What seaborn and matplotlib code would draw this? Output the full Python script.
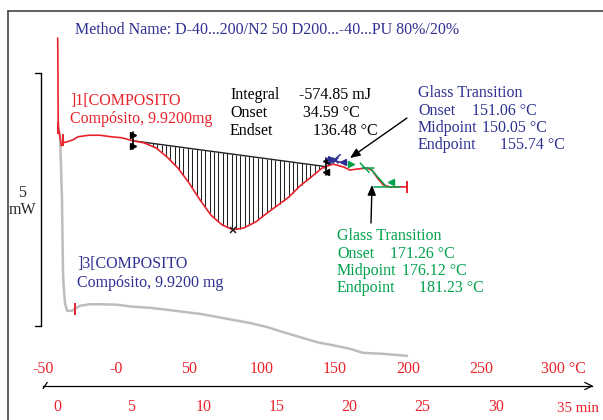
import numpy as np
import pandas as pd
import matplotlib
matplotlib.use("Agg")
import matplotlib.pyplot as plt
from matplotlib.lines import Line2D
import seaborn as sns

# ---- data -------------------------------------------------------------
# Segment 1: heating -40 -> 200 °C at 10 K/min; time [min], heat flow [mW]
run1_time = [0.00, 0.02, 0.03, 0.06, 0.16, 0.26, 0.36, 0.64, 1.05, 1.39,
             2.14, 2.90, 3.65, 4.40, 5.16, 5.91, 6.73, 7.49, 8.24, 8.99,
             9.75, 10.50, 11.25, 12.01, 12.76, 13.58, 14.33, 15.09, 15.84, 16.60,
             17.35, 18.10, 18.86, 19.61, 20.02, 20.43, 21.19, 21.53, 21.94, 22.29,
             22.70, 23.45, 23.93]
run1_mw = [5.69, 4.86, 4.13, 3.91, 3.72, 3.56, 3.62, 3.64, 3.68, 3.74,
           3.77, 3.77, 3.74, 3.72, 3.66, 3.62, 3.52, 3.34, 3.12, 2.83,
           2.49, 2.19, 2.00, 1.90, 1.94, 2.06, 2.23, 2.39, 2.55, 2.77,
           2.94, 3.12, 3.20, 3.14, 3.08, 3.10, 3.12, 3.08, 2.91, 2.79,
           2.75, 2.75, 2.75]

# Segment 3: second run of the same sample
run3_time = [0.02, 0.16, 0.29, 0.36, 0.40, 0.50, 0.64, 0.98, 1.18, 1.53,
             2.21, 2.90, 4.06, 5.16, 6.32, 7.49, 8.58, 9.75, 10.91, 12.01,
             13.17, 14.33, 15.43, 16.60, 17.76, 18.86, 20.02, 20.90, 22.29, 23.93]
run3_mw = [3.91, 3.77, 2.55, 1.11, 0.81, 0.45, 0.30, 0.30, 0.34, 0.40,
           0.43, 0.43, 0.42, 0.38, 0.36, 0.32, 0.28, 0.24, 0.18, 0.12,
           0.06, -0.02, -0.12, -0.22, -0.32, -0.38, -0.45, -0.53, -0.55, -0.59]

# Peak integration limits (°C) and evaluation results
integration_limits_c = [11.6, 143.8]
integral_mj = -574.85
peak_onset_c = 34.59
peak_endset_c = 136.48
tg_blue_c = [151.06, 150.05, 155.74]    # onset, midpoint, endpoint
tg_green_c = [171.26, 176.12, 181.23]   # onset, midpoint, endpoint

# Axis labelling
time_ticks = list(range(-1, 37))
time_labels = [0, 5, 10, 15, 20, 25, 30, 35]
temp_labels = [-50, 0, 50, 100, 150, 200, 250, 300]
scale_bar_mw = 5

T_START, RATE = -40.0, 10.0   # °C, K/min


def c_to_min(c):
    return (np.asarray(c, dtype=float) - T_START) / RATE


# ---- styling ------------------------------------------------------------
sns.set_style("white")
plt.rcParams["font.family"] = ["Liberation Serif", "DejaVu Serif"]
RED = "#e8232b"
BLUE = "#2e3192"
GREEN = "#00a14b"
GRAY = "#bdbdbd"
FS = 11.5

W, H = 603, 420
fig = plt.figure(figsize=(W / 100, H / 100), dpi=100)
ax = fig.add_axes([0, 0, 1, 1])
ax.set_facecolor("white")

# 14.6 px per minute, 50.6 px per mW
ax.set_xlim(-57.7 / 14.6, (W - 57.7) / 14.6)
ax.set_ylim(-94 / 50.6, 326 / 50.6)


def fx(px):
    return px / W


def fy(py):
    return 1 - py / H


df1 = pd.DataFrame({"t": run1_time, "mw": run1_mw})
df3 = pd.DataFrame({"t": run3_time, "mw": run3_mw})

sns.lineplot(data=df3, x="t", y="mw", ax=ax, color=GRAY, lw=1.8,
             sort=False, estimator=None, zorder=2)
sns.lineplot(data=df1, x="t", y="mw", ax=ax, color=RED, lw=1.2,
             sort=False, estimator=None, zorder=4)

# segment start/end marks
ax.plot([run1_time[2]], [run1_mw[3]], marker="|", ms=8, mew=1.4, color=RED, zorder=5)
ax.plot([run1_time[6]], [3.68], marker="|", ms=9, mew=1.4, color=RED, zorder=5)
ax.plot([run3_time[8]], [run3_mw[8]], marker="|", ms=8, mew=1.4, color=RED, zorder=5)
ax.plot([run1_time[-1]], [run1_mw[-1]], marker="|", ms=9, mew=1.4, color=RED, zorder=5)

# ---- peak integration ---------------------------------------------------
t_a, t_b = c_to_min(integration_limits_c)
y_a = np.interp(t_a, run1_time, run1_mw)
y_b = np.interp(t_b, run1_time, run1_mw)
ax.plot([t_a, t_b], [y_a, y_b], color="#222222", lw=1.0, zorder=3)
hatch_t = np.arange(t_a + 0.15, t_b, 0.3)
base = y_a + (y_b - y_a) * (hatch_t - t_a) / (t_b - t_a)
curve = np.interp(hatch_t, run1_time, run1_mw)
ax.vlines(hatch_t, curve, base, color="#222222", lw=0.75, zorder=3)

for t0, y0, mk in [(t_a, y_a, ">"), (t_b, y_b, "<")]:
    ax.plot([t0, t0], [y0 - 0.17, y0 + 0.17], color="black", lw=1.2, zorder=5)
    ax.plot([t0, t0], [y0 + 0.11, y0 - 0.11], ls="none", marker=mk, ms=4.5,
            color="black", zorder=5)

i_min = int(np.argmin(run1_mw))
ax.plot([run1_time[i_min]], [run1_mw[i_min]], marker="x", ms=5, mew=1.1,
        color="#222222", zorder=6)

# ---- glass transitions --------------------------------------------------
tb_on, tb_mid, tb_end = c_to_min(tg_blue_c)
yb = np.interp(tb_mid, run1_time, run1_mw)
ax.plot([tb_mid - 0.65, tb_end + 0.2], [yb + 0.12, yb + 0.02], color=BLUE, lw=1.1, zorder=6)
ax.plot([tb_mid - 0.35, tb_mid + 0.35], [yb + 0.02, yb + 0.2], color=BLUE, lw=1.1, zorder=6)
ax.plot([tb_mid - 0.3], [yb + 0.12], marker=">", ms=4, color=BLUE, zorder=6)
ax.plot([tb_mid], [yb + 0.1], marker="x", ms=4, mew=1.0, color=BLUE, zorder=6)
ax.plot([tb_end], [yb + 0.05], marker="<", ms=4, color=BLUE, zorder=6)

tg_on, tg_mid, tg_end = c_to_min(tg_green_c)
yg_on = np.interp(tg_on, run1_time, run1_mw)
yg_mid = np.interp(tg_mid, run1_time, run1_mw)
yg_low = run1_mw[-1]
slope = (np.interp(tg_mid + 0.2, run1_time, run1_mw) -
         np.interp(tg_mid - 0.2, run1_time, run1_mw)) / 0.4
ax.plot([tg_on - 0.3, tg_mid + 0.05], [yg_on, yg_on], color=GREEN, lw=1.1, zorder=6)
ax.plot([tg_on - 0.4, tg_on + 0.2], [yg_on + 0.1, yg_on - 0.08], color=GREEN, lw=1.1, zorder=6)
tt = np.array([tg_mid - 0.15, tg_end + 0.3])
ax.plot(tt, yg_mid + slope * (tt - tg_mid), color=GREEN, lw=1.1, zorder=6)
ax.plot([tg_mid + 0.05, tg_end + 1.3], [yg_low, yg_low], color=GREEN, lw=1.1, zorder=6)
ax.plot([tg_on - 1.05], [yg_on + 0.08], marker=">", ms=4.5, color=GREEN, zorder=6)
ax.plot([tg_end + 0.7], [yg_low + 0.1], marker="<", ms=4.5, color=GREEN, zorder=6)

# ---- bottom axis: time ticks below, temperature labels above -----------
axis_y = -60 / 50.6
for s in ["left", "right", "top"]:
    ax.spines[s].set_visible(False)
ax.spines["bottom"].set_position(("data", axis_y))
ax.spines["bottom"].set_bounds(-1.0, 36.6)
ax.spines["bottom"].set_color("black")
ax.spines["bottom"].set_linewidth(0.9)
ax.set_yticks([])
ax.set_xticks(time_ticks)
# the last time label carries the unit and is drawn separately below
ax.set_xticklabels([str(t) if (t in time_labels and t != time_labels[-1]) else ""
                    for t in time_ticks])
ax.tick_params(axis="x", direction="inout", length=7, width=0.9, pad=6,
               labelsize=FS, labelcolor=RED, color="black")
ax.set_xlabel("")
ax.set_ylabel("")
ax.text(fx(557), fy(412), f"{time_labels[-1]} min", transform=ax.transAxes,
        color=RED, fontsize=10.8, ha="left", va="baseline")
ax.plot([36.1, 36.6, 36.1], [axis_y + 0.07, axis_y, axis_y - 0.07], color="black",
        lw=0.9, clip_on=False)
ax.plot([-1.0, -0.72], [axis_y - 0.05, axis_y + 0.07], color="black", lw=0.9)

temp_y = -47 / 50.6
for c in temp_labels:
    t = c_to_min(c)
    if c == 300:
        ax.text(t - 0.9, temp_y, "300 °C", color=RED, fontsize=FS, ha="left", va="baseline")
    else:
        txt = "-0" if c == 0 else str(c)
        ax.text(t, temp_y, txt, color=RED, fontsize=FS, ha="center", va="baseline")

# scale bar
sb_x = -16.7 / 14.6
ax.plot([sb_x - 0.41, sb_x, sb_x, sb_x - 0.41], [scale_bar_mw, scale_bar_mw, 0, 0],
        color="black", lw=1.0)
ax.text(fx(22), fy(197), str(scale_bar_mw), transform=ax.transAxes, fontsize=FS,
        ha="center", va="baseline")
ax.text(fx(22), fy(214), "mW", transform=ax.transAxes, fontsize=FS,
        ha="center", va="baseline")

# frame
fig.add_artist(Line2D([fx(8), 1.0], [fy(11), fy(11)], color="#444444", lw=1.2))
fig.add_artist(Line2D([fx(8), fx(8)], [fy(11), 0.0], color="#444444", lw=1.2))


def put(px, py, s, color, ha="left"):
    ax.text(fx(px), fy(py), s, transform=ax.transAxes, color=color, fontsize=FS,
            ha=ha, va="baseline")


put(75, 34, "Method Name: D-40...200/N2 50 D200...-40...PU 80%/20%", BLUE)
put(70, 105, "]1[COMPOSITO", RED)
put(70, 123, "Compósito, 9.9200mg", RED)
put(77, 268, "]3[COMPOSITO", BLUE)
put(77, 287, "Compósito, 9.9200 mg", BLUE)

put(230, 99, "Integral", "black")
put(230, 117, "Onset", "black")
put(230, 135, "Endset", "black")
put(299, 99, f"{integral_mj:.2f} mJ", "black")
put(303, 117, f"{peak_onset_c:.2f} °C", "black")
put(313, 135, f"{peak_endset_c:.2f} °C", "black")

put(418, 97, "Glass Transition", BLUE)
put(418, 115, "Onset", BLUE)
put(472, 115, f"{tg_blue_c[0]:.2f} °C", BLUE)
put(418, 132, "Midpoint", BLUE)
put(482, 132, f"{tg_blue_c[1]:.2f} °C", BLUE)
put(418, 149, "Endpoint", BLUE)
put(500, 149, f"{tg_blue_c[2]:.2f} °C", BLUE)

put(337, 240, "Glass Transition", GREEN)
put(337, 258, "Onset", GREEN)
put(390, 258, f"{tg_green_c[0]:.2f} °C", GREEN)
put(337, 275, "Midpoint", GREEN)
put(402, 275, f"{tg_green_c[1]:.2f} °C", GREEN)
put(337, 292, "Endpoint", GREEN)
put(419, 292, f"{tg_green_c[2]:.2f} °C", GREEN)

arrow = dict(arrowstyle="-|>,head_length=0.6,head_width=0.25", color="black", lw=1.0,
             shrinkA=0, shrinkB=0)
ax.annotate("", xy=(fx(350), fy(158)), xytext=(fx(407), fy(118)),
            xycoords=ax.transAxes, textcoords=ax.transAxes, arrowprops=arrow)
ax.annotate("", xy=(fx(372), fy(185)), xytext=(fx(371), fy(223)),
            xycoords=ax.transAxes, textcoords=ax.transAxes, arrowprops=arrow)

fig.savefig("out.png", dpi=100, facecolor="white")
